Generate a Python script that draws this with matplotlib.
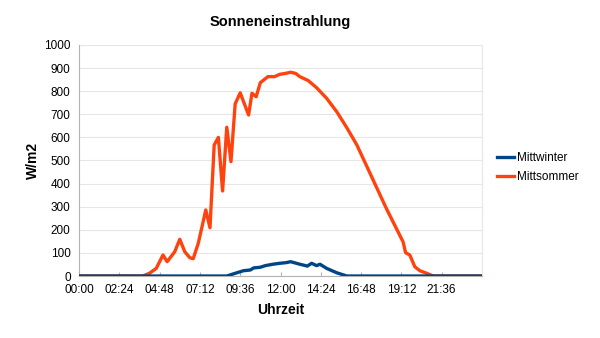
import matplotlib.pyplot as plt
import numpy as np

# hours of day and irradiance values (W/m2)
summer_hours = [0, 3.8, 4.2, 4.6, 5.0, 5.25, 5.7, 6.0, 6.3, 6.6, 6.8, 7.1, 7.35, 7.55, 7.8,
                8.05, 8.3, 8.55, 8.8, 9.05, 9.3, 9.6, 10.1, 10.3, 10.55, 10.8, 11.25, 11.65,
                11.95, 12.3, 12.6, 12.9, 13.15, 13.65, 14.15, 14.75, 15.35, 15.95, 16.55,
                17.1, 17.7, 18.3, 18.7, 19.1, 19.3, 19.45, 19.7, 20.0, 20.3, 20.7, 21.1, 24]
summer_values = [0, 0, 12, 33, 91, 62, 105, 159, 105, 79, 75, 141, 221, 286, 209,
                 567, 600, 368, 644, 495, 745, 793, 697, 791, 776, 837, 863, 863,
                 873, 877, 882, 877, 863, 846, 815, 769, 711, 642, 567,
                 481, 387, 293, 235, 177, 148, 101, 91, 40, 23, 12, 0, 0]

winter_hours = [0, 8.8, 9.4, 9.8, 10.2, 10.4, 10.8, 11.1, 11.55, 11.95, 12.35, 12.6,
                13.15, 13.6, 13.85, 14.15, 14.35, 14.75, 15.35, 15.95, 24]
winter_values = [0, 0, 14, 23, 26, 35, 38, 45, 51, 55, 58, 62,
                 51, 43, 55, 45, 51, 33, 14, 0, 0]

tick_hours = np.arange(0, 24, 2.4)
tick_labels = ['00:00', '02:24', '04:48', '07:12', '09:36', '12:00', '14:24', '16:48', '19:12', '21:36']

plt.rcParams['font.family'] = ['Liberation Sans', 'DejaVu Sans']

fig = plt.figure(figsize=(6, 3.38), dpi=100)
ax = fig.add_axes([0.1317, 0.1834, 0.6716, 0.6835])

ax.plot(winter_hours, winter_values, color='#004586', lw=2.4, label='Mittwinter', zorder=4)
ax.plot(summer_hours, summer_values, color='#ff420e', lw=2.4, label='Mittsommer', zorder=3)

ax.set_xlim(0, 24)
ax.set_ylim(0, 1000)
ax.set_xticks(tick_hours)
ax.set_xticklabels(tick_labels, fontsize=8.5)
ax.set_yticks(np.arange(0, 1001, 100))
ax.tick_params(axis='y', labelsize=8.5, length=0, pad=6)
ax.tick_params(axis='x', direction='in', length=3, color='#b3b3b3', pad=5.5)
ax.yaxis.grid(True, color='#e6e6e6', lw=0.8)
ax.set_axisbelow(True)

ax.spines['top'].set_visible(False)
ax.spines['left'].set_color('#b3b3b3')
ax.spines['bottom'].set_color('#b3b3b3')
ax.spines['right'].set_color('#e6e6e6')

ax.set_title('Sonneneinstrahlung', fontsize=10.5, fontweight='bold', pad=14)
ax.set_xlabel('Uhrzeit', fontsize=10, fontweight='bold', labelpad=5)
ax.set_ylabel('W/m2', fontsize=10, fontweight='bold', labelpad=3)

ax.legend(loc='center left', bbox_to_anchor=(1.01, 0.47), frameon=False, fontsize=8.5,
          handlelength=1.5, handletextpad=0.2, labelspacing=0.55)

fig.savefig('out.png', dpi=100)
